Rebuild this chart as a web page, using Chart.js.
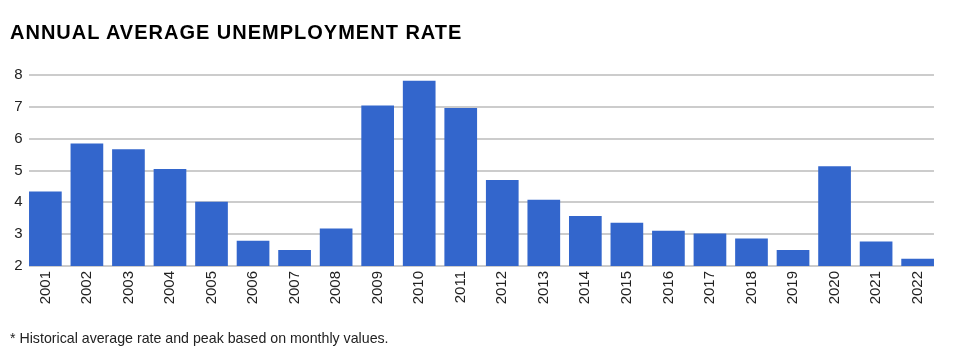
<!DOCTYPE html>
<html>
<head>
<meta charset="utf-8">
<script src="https://cdn.jsdelivr.net/npm/chart.js@4"></script>
<style>
  html, body { margin: 0; padding: 0; background: #fff; }
  body { width: 956px; height: 357px; position: relative; overflow: hidden; font-family: "Liberation Sans", Arial, sans-serif; }
  #title { position: absolute; left: 10px; top: 21px; font-size: 20px; font-weight: bold; color: #000; white-space: nowrap; letter-spacing: 1px; }
  #note { position: absolute; left: 10px; top: 330px; font-size: 14.2px; color: #222; white-space: nowrap; }
  #wrap { position: absolute; left: 0; top: 0; width: 956px; height: 357px; }
</style>
</head>
<body>
<div id="wrap"><canvas id="c"></canvas></div>
<div id="title">ANNUAL AVERAGE UNEMPLOYMENT RATE</div>
<div id="note">* Historical average rate and peak based on monthly values.</div>
<script>
const years = ["2001","2002","2003","2004","2005","2006","2007","2008","2009","2010","2011","2012","2013","2014","2015","2016","2017","2018","2019","2020","2021","2022"];
const rates = [4.34,5.85,5.67,5.05,4.02,2.79,2.50,3.18,7.04,7.82,6.96,4.70,4.08,3.57,3.36,3.11,3.02,2.86,2.50,5.13,2.77,2.23];
const yTicks = [2,3,4,5,6,7,8];

// Horizontal gridlines spanning from the first bar's left edge to the last bar's right edge
const gridPlugin = {
  id: 'barSpanGrid',
  beforeDatasetsDraw(chart) {
    const meta = chart.getDatasetMeta(0);
    const els = meta.data;
    if (!els.length) return;
    const first = els[0].getProps(['x', 'width'], true);
    const last = els[els.length - 1].getProps(['x', 'width'], true);
    const x0 = first.x - first.width / 2;
    const x1 = last.x + last.width / 2;
    const ys = chart.scales.y;
    const ctx = chart.ctx;
    ctx.save();
    ctx.strokeStyle = '#cccccc';
    ctx.lineWidth = 2;
    yTicks.forEach(v => {
      const y = Math.round(ys.getPixelForValue(v));
      ctx.beginPath();
      ctx.moveTo(x0, y);
      ctx.lineTo(x1, y);
      ctx.stroke();
    });
    ctx.restore();
  }
};

new Chart(document.getElementById('c'), {
  type: 'bar',
  data: {
    labels: years,
    datasets: [{
      data: rates,
      backgroundColor: '#3366cc',
      borderWidth: 0,
      barPercentage: 0.787,
      categoryPercentage: 1.0
    }]
  },
  options: {
    responsive: true,
    maintainAspectRatio: false,
    animation: false,
    layout: { padding: { top: 75, right: 17.6, left: 0, bottom: 0 } },
    plugins: { legend: { display: false }, tooltip: { enabled: false }, title: { display: false } },
    scales: {
      x: {
        grid: { display: false, drawTicks: false },
        border: { display: false },
        ticks: {
          color: '#222',
          font: { family: '"Liberation Sans", Arial, sans-serif', size: 15 },
          minRotation: 90, maxRotation: 90, padding: 5, autoSkip: false
        },
        afterFit: (s) => { s.height = 91; }
      },
      y: {
        min: 2, max: 8,
        afterBuildTicks: (s) => { s.ticks = yTicks.map(v => ({ value: v })); },
        grid: { display: false, drawTicks: false },
        border: { display: false },
        ticks: {
          color: '#222',
          font: { family: '"Liberation Sans", Arial, sans-serif', size: 15 },
          padding: 2
        },
        afterFit: (s) => { s.width = 24.6; }
      }
    }
  },
  plugins: [gridPlugin]
});
</script>
</body>
</html>
